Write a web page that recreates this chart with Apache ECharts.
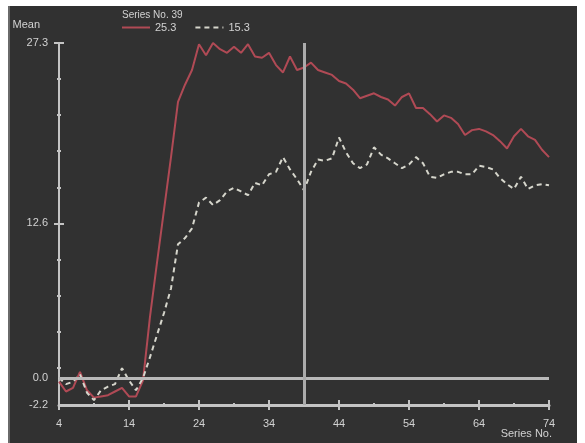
<!DOCTYPE html>
<html>
<head>
<meta charset="utf-8">
<script src="https://cdn.jsdelivr.net/npm/echarts@6/dist/echarts.min.js"></script>
<style>
  html, body { margin: 0; padding: 0; background: #ffffff; }
  #bg { position: absolute; left: 8px; top: 6px; width: 569px; height: 437px; background: #313131; border-left: 2px solid #6a6a6a; box-sizing: border-box; }
  #chart { position: absolute; left: 0; top: 0; width: 585px; height: 443px; }
</style>
</head>
<body>
<div id="bg"></div>
<div id="chart"></div>
<script>
// ---- data ----
const seriesNo = [4,5,6,7,8,9,10,11,12,13,14,15,16,17,18,19,20,21,22,23,24,25,26,27,28,29,30,31,32,33,34,35,36,37,38,39,40,41,42,43,44,45,46,47,48,49,50,51,52,53,54,55,56,57,58,59,60,61,62,63,64,65,66,67,68,69,70,71,72,73,74];
const meanRed = [-0.3,-1.1,-0.8,0.5,-1.0,-1.6,-1.5,-1.4,-1.1,-0.8,-1.5,-1.5,-0.2,5.0,9.4,13.7,18.0,22.5,23.9,25.1,27.2,26.3,27.3,26.8,26.5,27.0,26.5,27.2,26.2,26.1,26.5,25.5,24.9,26.2,25.1,25.3,25.7,25.1,24.9,24.7,24.2,24.0,23.5,22.8,23.0,23.2,22.9,22.7,22.2,22.9,23.2,22.0,22.0,21.5,20.9,21.4,21.2,20.7,19.8,20.2,20.3,20.1,19.8,19.3,18.7,19.7,20.3,19.7,19.4,18.6,18.0];
const meanDashed = [0.0,-0.5,-0.3,0.3,-1.2,-1.8,-1.0,-0.7,-0.5,0.8,-0.2,-1.0,0.0,1.7,3.5,5.3,7.3,10.9,11.4,12.2,14.3,14.7,14.1,14.5,15.2,15.5,15.2,14.9,15.9,15.7,16.6,16.8,18.0,17.0,16.2,15.3,16.8,17.8,17.7,17.9,19.6,18.4,17.5,17.1,17.4,18.8,18.2,17.9,17.5,17.1,17.4,18.0,17.5,16.4,16.3,16.6,16.8,16.8,16.6,16.6,17.3,17.2,17.0,16.3,15.8,15.4,16.4,15.4,15.7,15.8,15.7];
const cursorSeriesNo = 39;
const xTickLabels = [4,14,24,34,44,54,64,74];
const xMinorTicks = [9,19,29,39,49,59,69];
const yTickLabels = [-2.2,0.0,12.6,27.3];
const yMajorTicks = [12.6,27.3];
const yMinorTicks = [24.36,21.42,18.48,15.54,9.66,6.72,3.78,0.84];
const yMin = -2.2, yMax = 27.3, xMin = 4, xMax = 74;

// ---- chart ----
const FONT = 'Liberation Sans, Arial, sans-serif';
const TXT = '#d2d2d2';
const AX = '#c4c4c4';
const chart = echarts.init(document.getElementById('chart'), null, { renderer: 'canvas' });
const idx = seriesNo.indexOf(cursorSeriesNo);
const pairs = arr => seriesNo.map((x, i) => [x, arr[i]]);

function xAxisBase(extra) {
  return Object.assign({
    type: 'value', min: xMin, max: xMax, position: 'bottom',
    axisLine: { show: false, onZero: false }, axisLabel: { show: false },
    axisTick: { show: false }, splitLine: { show: false }
  }, extra);
}
function yAxisBase(extra) {
  return Object.assign({
    type: 'value', min: yMin, max: yMax, position: 'left', offset: 0,
    axisLine: { show: false, onZero: false }, axisLabel: { show: false },
    axisTick: { show: false }, splitLine: { show: false }
  }, extra);
}

chart.setOption({
  backgroundColor: 'transparent',
  animation: false,
  textStyle: { fontFamily: FONT },
  title: {
    text: 'Series No. ' + cursorSeriesNo,
    left: 117, top: 5,
    textStyle: { color: TXT, fontSize: 10, fontWeight: 'normal', fontFamily: FONT }
  },
  legend: {
    left: 116, top: 17,
    itemWidth: 28, itemHeight: 8, itemGap: 18,
    itemStyle: { opacity: 0 },
    textStyle: { color: TXT, fontSize: 11, fontFamily: FONT },
    data: ['red', 'dashed'],
    formatter: name => (name === 'red' ? meanRed[idx] : meanDashed[idx]).toFixed(1)
  },
  grid: { left: 59, right: 36, top: 43, bottom: 38, containLabel: false, outerBoundsMode: 'none' },
  xAxis: [
    xAxisBase({
      name: 'Series No.', nameLocation: 'end', nameGap: 3, nameMoveOverlap: false,
      nameTextStyle: { color: TXT, fontSize: 11, align: 'right', verticalAlign: 'top', padding: [23, 0, 0, 0], fontFamily: FONT },
      axisLine: { show: true, onZero: false, lineStyle: { color: AX, width: 3 } },
      axisLabel: { show: true, customValues: xTickLabels, color: TXT, fontSize: 11, margin: 13, fontFamily: FONT },
      axisTick: { show: true, customValues: xTickLabels, length: 5, inside: false, lineStyle: { color: AX, width: 2 } }
    }),
    xAxisBase({ axisTick: { show: true, customValues: xTickLabels, length: 5, inside: true, lineStyle: { color: AX, width: 2 } } }),
    xAxisBase({ axisTick: { show: true, customValues: xMinorTicks, length: 2, inside: true, lineStyle: { color: AX, width: 2 } } }),
    xAxisBase({ axisTick: { show: true, customValues: xMinorTicks, length: 2, inside: false, lineStyle: { color: AX, width: 2 } } })
  ],
  yAxis: [
    yAxisBase({
      name: 'Mean', nameLocation: 'end', nameGap: 13, nameMoveOverlap: false,
      nameTextStyle: { color: TXT, fontSize: 11, align: 'right', padding: [0, 19, 0, 0], fontFamily: FONT },
      axisLine: { show: true, onZero: false, lineStyle: { color: AX, width: 2 } },
      axisLabel: { show: true, customValues: yTickLabels, formatter: v => Number(v).toFixed(1), color: TXT, fontSize: 11, margin: 11, fontFamily: FONT },
      axisTick: { show: true, customValues: yMajorTicks, length: 5, inside: false, lineStyle: { color: AX, width: 2 } }
    }),
    yAxisBase({ axisTick: { show: true, customValues: yMajorTicks, length: 5, inside: true, lineStyle: { color: AX, width: 2 } } }),
    yAxisBase({ axisTick: { show: true, customValues: yMinorTicks, length: 2, inside: true, lineStyle: { color: AX, width: 2 } } }),
    yAxisBase({ axisTick: { show: true, customValues: yMinorTicks, length: 2, inside: false, lineStyle: { color: AX, width: 2 } } })
  ],
  series: [
    {
      name: 'red', type: 'line', xAxisIndex: 0, yAxisIndex: 0,
      data: pairs(meanRed), showSymbol: false, symbol: 'none',
      lineStyle: { color: '#b04a55', width: 2 }, itemStyle: { color: '#b04a55' },
      z: 3,
      markLine: {
        silent: true, symbol: 'none', label: { show: false },
        lineStyle: { color: '#b9b9b9', width: 3, type: 'solid' },
        data: [ { yAxis: 0 } ]
      }
    },
    {
      name: 'dashed', type: 'line', xAxisIndex: 0, yAxisIndex: 0,
      data: pairs(meanDashed), showSymbol: false, symbol: 'none',
      lineStyle: { color: '#d6d6cc', width: 2, type: [5, 4] }, itemStyle: { color: '#d6d6cc' },
      z: 3,
      markLine: {
        silent: true, symbol: 'none', label: { show: false },
        lineStyle: { color: '#ababab', width: 3, type: 'solid' },
        data: [ { xAxis: cursorSeriesNo } ]
      }
    }
  ]
});
</script>
</body>
</html>
